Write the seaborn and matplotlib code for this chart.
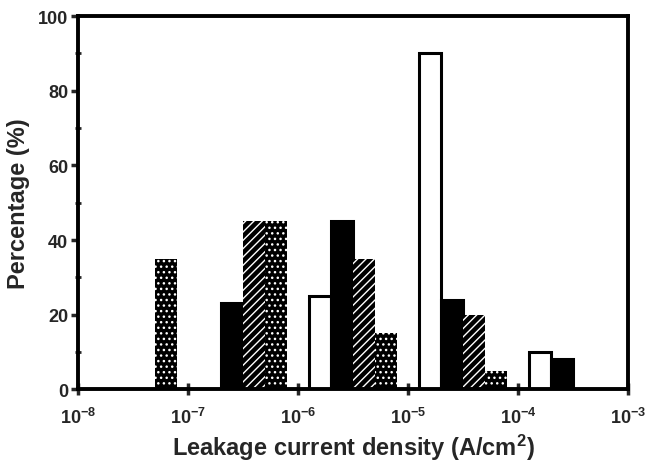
import numpy as np
import pandas as pd
import matplotlib
matplotlib.use("Agg")
import matplotlib.pyplot as plt
import seaborn as sns

# Data: percentage per series in each decade of leakage current density
decade_starts = [-8, -7, -6, -5, -4]          # log10 of decade start
open_vals    = [0, 0, 25, 90, 10]
solid_vals   = [0, 23, 45, 24, 8]
hatched_vals = [0, 45, 35, 20, 0]
dotted_vals  = [35, 45, 15, 5, 0]
series_offsets = [0.2, 0.4, 0.6, 0.8]          # bar centre offset inside each decade (log units)
xtick_exps = [-8, -7, -6, -5, -4, -3]

sns.set_style("ticks")
plt.rcParams["font.family"] = ["Liberation Sans", "DejaVu Sans"]
plt.rcParams["font.weight"] = "bold"
plt.rcParams["mathtext.fontset"] = "custom"
plt.rcParams["mathtext.rm"] = "Liberation Sans:bold"
plt.rcParams["mathtext.bf"] = "Liberation Sans:bold"
plt.rcParams["mathtext.it"] = "Liberation Sans:bold"
plt.rcParams["hatch.linewidth"] = 1.0

fig = plt.figure(figsize=(6.5, 4.64), dpi=100)
ax = fig.add_axes([0.12, 0.159, 0.846, 0.804])

styles = [
    dict(vals=open_vals, face="white", edge="black", hatch=None),
    dict(vals=solid_vals, face="black", edge="black", hatch=None),
    dict(vals=hatched_vals, face="black", edge="white", hatch="////"),
    dict(vals=dotted_vals, face="black", edge="white", hatch="..."),
]

for off, st in zip(series_offsets, styles):
    xs, ys = [], []
    for d, v in zip(decade_starts, st["vals"]):
        if v > 0:
            xs.append(10 ** (d + off))
            ys.append(v)
    df = pd.DataFrame({"x": xs, "y": ys})
    n_before = len(ax.patches)
    sns.barplot(data=df, x="x", y="y", native_scale=True, log_scale=(True, False),
                width=0.2, color=st["face"], ax=ax, errorbar=None)
    for p in ax.patches[n_before:]:
        p.set_facecolor(st["face"])
        if st["hatch"]:
            p.set_hatch(st["hatch"])
            p.set_edgecolor(st["edge"])
            p.set_linewidth(0)
        else:
            p.set_edgecolor("black")
            p.set_linewidth(2.2)

ax.set_xscale("log")
ax.set_xlim(1e-8, 1e-3)
ax.set_ylim(0, 100)
ax.set_xticks([10.0 ** e for e in xtick_exps])
ax.set_xticklabels([r"$\mathbf{10^{%d}}$" % e for e in xtick_exps])
ax.xaxis.set_minor_locator(matplotlib.ticker.NullLocator())
ax.set_yticks([0, 20, 40, 60, 80, 100])
ax.set_yticks([10, 30, 50, 70, 90], minor=True)

for s in ax.spines.values():
    s.set_visible(True)
    s.set_linewidth(2.8)
    s.set_color("black")
ax.tick_params(axis="y", which="major", direction="out", length=5, width=2.5, labelsize=13, pad=2)
ax.tick_params(axis="y", which="minor", direction="inout", length=5, width=2)
ax.tick_params(axis="x", which="major", direction="inout", length=9, width=2.5, labelsize=13, pad=8)
for lab in ax.get_yticklabels():
    lab.set_fontweight("bold")

ax.set_xlabel(r"Leakage current density (A/cm$^\mathbf{2}$)", fontsize=17, fontweight="bold", labelpad=4)
ax.set_ylabel("Percentage (%)", fontsize=17, fontweight="bold", labelpad=6)

fig.savefig("out.png", dpi=100)
